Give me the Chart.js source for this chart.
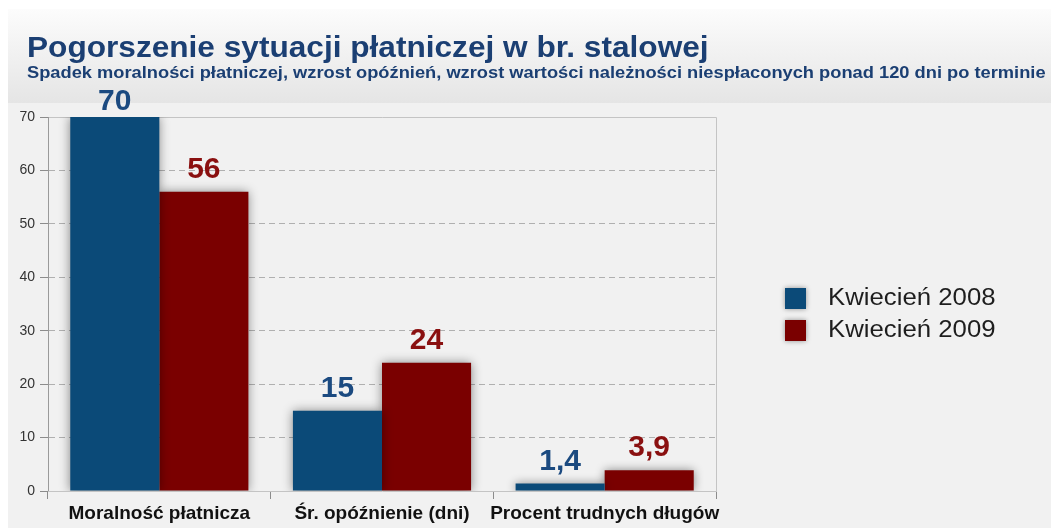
<!DOCTYPE html>
<html>
<head>
<meta charset="utf-8">
<script src="https://cdn.jsdelivr.net/npm/chart.js@4.4.1/dist/chart.umd.min.js"></script>
<style>
html,body{margin:0;padding:0;background:#fff;}
#wrap{width:1051px;height:528px;position:relative;}
</style>
</head>
<body>
<div id="wrap"><canvas id="c" width="1051" height="528"></canvas></div>
<script>
const titleText = 'Pogorszenie sytuacji płatniczej w br. stalowej';
const subtitleText = 'Spadek moralności płatniczej, wzrost opóźnień, wzrost wartości należności niespłaconych ponad 120 dni po terminie';
const categories = ['Moralność płatnicza', 'Śr. opóźnienie (dni)', 'Procent trudnych długów'];
const seriesNames = ['Kwiecień 2008', 'Kwiecień 2009'];
const values2008 = [70, 15, 1.4];
const values2009 = [56, 24, 3.9];
const yTicks = [0, 10, 20, 30, 40, 50, 60, 70];

const barColors = ['#0b4a78', '#7a0000'];
const labelColors = ['#1b4a80', '#8a1010'];
const textBlue = '#1b3f73';

function scaledText(ctx, text, x, y, sx) {
  ctx.save();
  ctx.translate(x, y);
  ctx.scale(sx, 1);
  ctx.fillText(text, 0, 0);
  ctx.restore();
}

const bgPlugin = {
  id: 'bg',
  beforeDraw(chart) {
    const ctx = chart.ctx;
    ctx.save();
    ctx.fillStyle = '#ffffff';
    ctx.fillRect(0, 0, chart.width, chart.height);
    ctx.fillStyle = '#f1f1f1';
    ctx.fillRect(8, 9, chart.width - 8, chart.height - 9);
    const g = ctx.createLinearGradient(0, 9, 0, 103);
    g.addColorStop(0, '#fcfcfc');
    g.addColorStop(1, '#e5e5e5');
    ctx.fillStyle = g;
    ctx.fillRect(8, 9, chart.width - 8, 94);
    // title
    ctx.fillStyle = textBlue;
    ctx.textBaseline = 'alphabetic';
    ctx.textAlign = 'left';
    ctx.font = 'bold 29px "Liberation Sans", Arial, sans-serif';
    scaledText(ctx, titleText, 27, 57, 1.09);
    ctx.font = 'bold 17px "Liberation Sans", Arial, sans-serif';
    scaledText(ctx, subtitleText, 27, 78, 1.075);
    // plot frame
    const a = chart.chartArea;
    ctx.strokeStyle = '#c4c4c4';
    ctx.lineWidth = 1;
    ctx.beginPath();
    ctx.moveTo(a.left, a.top + 0.5);
    ctx.lineTo(a.right + 0.5, a.top + 0.5);
    ctx.lineTo(a.right + 0.5, a.bottom);
    ctx.stroke();
    ctx.restore();
  }
};

const shadowPlugin = {
  id: 'shadow',
  beforeDatasetsDraw(chart) {
    const ctx = chart.ctx;
    ctx.save();
    ctx.shadowColor = 'rgba(0,0,0,0.45)';
    ctx.shadowBlur = 10;
    ctx.shadowOffsetX = 0;
    ctx.shadowOffsetY = 0;
  },
  afterDatasetsDraw(chart) {
    chart.ctx.restore();
  }
};

const labelPlugin = {
  id: 'vlabels',
  afterDatasetsDraw(chart) {
    const ctx = chart.ctx;
    ctx.save();
    ctx.font = 'bold 30px "Liberation Sans", Arial, sans-serif';
    ctx.textAlign = 'center';
    ctx.textBaseline = 'alphabetic';
    chart.data.datasets.forEach((ds, di) => {
      const meta = chart.getDatasetMeta(di);
      meta.data.forEach((bar, i) => {
        ctx.fillStyle = labelColors[di];
        const txt = String(ds.data[i]).replace('.', ',');
        const y = Math.max(bar.y - 14, 110);
        ctx.fillText(txt, bar.x, y);
      });
    });
    ctx.restore();
  }
};

const legendPlugin = {
  id: 'customLegend',
  afterDraw(chart) {
    const ctx = chart.ctx;
    ctx.save();
    ctx.font = '23px "Liberation Sans", Arial, sans-serif';
    ctx.textAlign = 'left';
    ctx.textBaseline = 'middle';
    seriesNames.forEach((name, i) => {
      const y = 298 + i * 32;
      ctx.shadowColor = 'rgba(0,0,0,0.4)';
      ctx.shadowBlur = 5;
      ctx.fillStyle = barColors[i];
      ctx.fillRect(785, y - 10, 21, 21);
      ctx.shadowBlur = 0;
      ctx.shadowColor = 'transparent';
      ctx.fillStyle = '#1e1e1e';
      scaledText(ctx, name, 828, y + 1, 1.12);
    });
    ctx.restore();
  }
};

new Chart(document.getElementById('c'), {
  type: 'bar',
  data: {
    labels: categories,
    datasets: [
      { label: seriesNames[0], data: values2008, backgroundColor: barColors[0], categoryPercentage: 0.8, barPercentage: 1.0 },
      { label: seriesNames[1], data: values2009, backgroundColor: barColors[1], categoryPercentage: 0.8, barPercentage: 1.0 }
    ]
  },
  options: {
    responsive: false,
    animation: false,
    devicePixelRatio: 1,
    layout: { padding: { left: 0, top: 117, right: 335, bottom: 0 } },
    plugins: {
      legend: { display: false },
      title: { display: false },
      tooltip: { enabled: false }
    },
    scales: {
      y: {
        min: 0, max: 70,
        afterFit(scale) { scale.width = 48; },
        afterBuildTicks(scale) { scale.ticks = yTicks.map(v => ({ value: v })); },
        ticks: {
          color: '#333',
          font: { family: '"Liberation Sans", Arial, sans-serif', size: 14 },
          padding: 5
        },
        grid: {
          color: (c) => (c.tick && (c.tick.value === 0 || c.tick.value === 70)) ? 'rgba(0,0,0,0)' : '#b0b0b0',
          tickColor: '#8c8c8c',
          tickLength: 8,
          lineWidth: 1
        },
        border: { display: true, color: '#9a9a9a', width: 1, dash: [6, 4] }
      },
      x: {
        afterFit(scale) { scale.height = 37; },
        ticks: {
          color: '#111',
          font: { family: '"Liberation Sans Narrow", "Liberation Sans", Arial, sans-serif', size: 19, weight: 'bold' },
          padding: 3,
          maxRotation: 0,
          autoSkip: false
        },
        grid: {
          offset: true,
          drawOnChartArea: false,
          drawTicks: true,
          tickLength: 8,
          tickColor: '#8c8c8c'
        },
        border: { display: true, color: '#c4c4c4', width: 1 }
      }
    }
  },
  plugins: [bgPlugin, shadowPlugin, labelPlugin, legendPlugin]
});
</script>
</body>
</html>
